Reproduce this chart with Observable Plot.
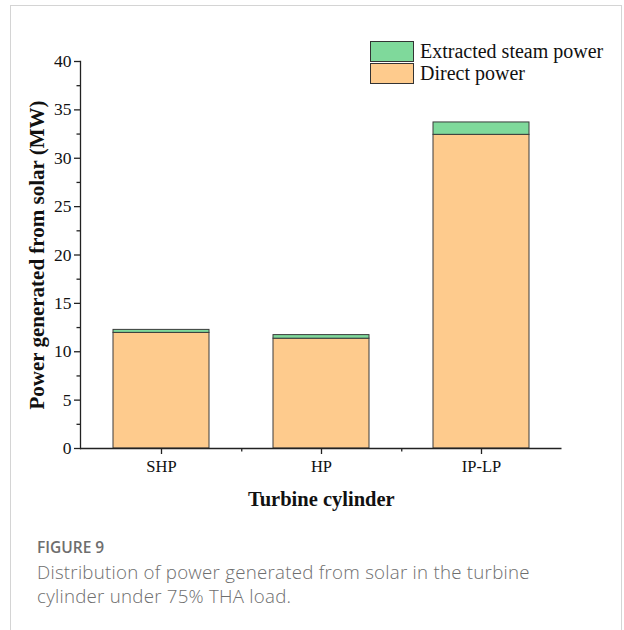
<!DOCTYPE html>
<html>
<head>
<meta charset="utf-8">
<script src="https://cdn.jsdelivr.net/npm/d3@7"></script>
<script src="https://cdn.jsdelivr.net/npm/@observablehq/plot@0.6"></script>
<style>
  html, body { margin: 0; padding: 0; background: #fff; }
  #wrap { position: relative; width: 624px; height: 630px; overflow: hidden; }
  #border { position: absolute; left: 10px; top: 5px; width: 612px; height: 640px; border: 1px solid #d4d4d4; box-sizing: border-box; }
  #chart { position: absolute; left: 0; top: 0; }
  #legend { position: absolute; left: 370px; top: 40px; font-family: "Liberation Serif", serif; font-size: 20px; color: #111; }
  .item { display: flex; align-items: center; height: 22px; }
  .sw { width: 44px; height: 21px; border: 1px solid #333; box-sizing: border-box; margin-right: 6px; }
  #caption { position: absolute; left: 37px; top: 534px; width: 530px; font-family: "Open Sans", sans-serif; color: #6e6e6e; }
  #caption .fig { font-size: 15.5px; font-weight: 600; line-height: 26px; }
  #caption .txt { font-size: 18.7px; font-weight: 300; letter-spacing: 0.25px; line-height: 24px; }
  #chart g[aria-label="y-axis tick label"] text { font-size: 17.5px; }
  #chart g[aria-label="x-axis tick label"] text { font-size: 16.5px; }
</style>
</head>
<body>
<div id="wrap">
  <div id="border"></div>
  <div id="chart"></div>
  <div id="legend"></div>
  <div id="caption">
    <div class="fig">FIGURE 9</div>
    <div class="txt">Distribution of power generated from solar in the turbine cylinder under 75% THA load.</div>
  </div>
</div>
<script>
const categories = ["SHP", "HP", "IP-LP"];
const directPower = [11.95, 11.35, 32.42];
const extractedPower = [0.31, 0.37, 1.28];
const seriesNames = ["Direct power", "Extracted steam power"];
const seriesColors = ["#fecb8d", "#7fd99b"];
const yMajorTicks = [0, 5, 10, 15, 20, 25, 30, 35, 40];
const yMinorTicks = [2.5, 7.5, 12.5, 17.5, 22.5, 27.5, 32.5, 37.5];
const xTitle = "Turbine cylinder";
const yTitle = "Power generated from solar (MW)";

const data = [];
categories.forEach((c, i) => {
  data.push({cat: c, series: seriesNames[0], value: directPower[i]});
  data.push({cat: c, series: seriesNames[1], value: extractedPower[i]});
});

const W = 624, H = 525, mL = 80, mR = 62.5, mT = 61, mB = 77;
const step = (W - mL - mR) / 3;

const chart = Plot.plot({
  width: W, height: H,
  marginLeft: mL, marginRight: mR, marginTop: mT, marginBottom: mB,
  style: {fontFamily: "Liberation Serif, serif", fontSize: "17px", color: "#111", background: "transparent"},
  x: {domain: categories, paddingInner: 0.4, paddingOuter: 0.2, label: null},
  y: {domain: [0, 40], label: null},
  color: {domain: seriesNames, range: seriesColors},
  marks: [
    Plot.barY(data, Plot.stackY({x: "cat", y: "value", fill: "series", order: seriesNames, stroke: "#3a3a3a", strokeWidth: 1})),
    Plot.ruleY([0], {stroke: "#222", strokeWidth: 1.3}),
    Plot.frame({anchor: "left", stroke: "#222", strokeWidth: 1.3}),
    Plot.axisY({ticks: yMajorTicks, tickSize: 6, tickPadding: 3, label: null, tickFormat: d => d, fill: "#111", stroke: "#222", strokeWidth: 1.3}),
    Plot.axisY({ticks: yMinorTicks, tickSize: 3.5, tickPadding: 0, label: null, tickFormat: () => "", stroke: "#222", strokeWidth: 1.3}),
    Plot.axisX({tickSize: 6, tickPadding: 6, label: null, fill: "#111", stroke: "#222", strokeWidth: 1.3}),
    Plot.axisX({ticks: categories.slice(0, 2), tickSize: 3.5, tickFormat: () => "", label: null, dx: step / 2, stroke: "#222", strokeWidth: 1.3}),
    Plot.text([xTitle], {frameAnchor: "bottom", dy: 57, fontWeight: "bold", fontSize: 20.5, fill: "#111"}),
    Plot.text([yTitle], {frameAnchor: "left", textAnchor: "middle", rotate: -90, dx: -43, fontWeight: "bold", fontSize: 21, fill: "#111"})
  ]
});
document.getElementById("chart").appendChild(chart);

const legend = document.getElementById("legend");
[1, 0].forEach(i => {
  const item = document.createElement("div");
  item.className = "item";
  const sw = document.createElement("div");
  sw.className = "sw";
  sw.style.background = seriesColors[i];
  const t = document.createElement("span");
  t.textContent = seriesNames[i];
  item.appendChild(sw);
  item.appendChild(t);
  legend.appendChild(item);
});
</script>
</body>
</html>
